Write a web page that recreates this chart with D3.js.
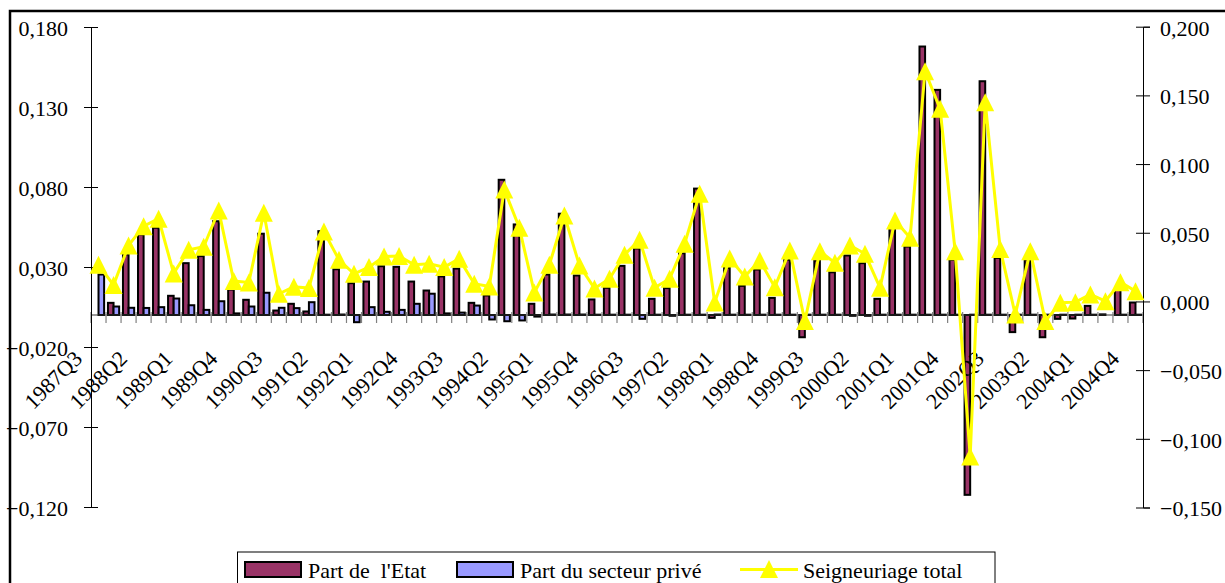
<!DOCTYPE html>
<html>
<head>
<meta charset="utf-8">
<script src="https://cdn.jsdelivr.net/npm/d3@7"></script>
<style>
  body { margin: 0; background: #fff; }
  svg { display: block; }
</style>
</head>
<body>
<div id="chart"></div>
<script>
// quarters 1987Q3 .. 2004Q4
var categories = [
  "1987Q3","1987Q4","1988Q1","1988Q2","1988Q3","1988Q4","1989Q1","1989Q2","1989Q3","1989Q4",
  "1990Q1","1990Q2","1990Q3","1990Q4","1991Q1","1991Q2","1991Q3","1991Q4","1992Q1","1992Q2",
  "1992Q3","1992Q4","1993Q1","1993Q2","1993Q3","1993Q4","1994Q1","1994Q2","1994Q3","1994Q4",
  "1995Q1","1995Q2","1995Q3","1995Q4","1996Q1","1996Q2","1996Q3","1996Q4","1997Q1","1997Q2",
  "1997Q3","1997Q4","1998Q1","1998Q2","1998Q3","1998Q4","1999Q1","1999Q2","1999Q3","1999Q4",
  "2000Q1","2000Q2","2000Q3","2000Q4","2001Q1","2001Q2","2001Q3","2001Q4","2002Q1","2002Q2",
  "2002Q3","2002Q4","2003Q1","2003Q2","2003Q3","2003Q4","2004Q1","2004Q2","2004Q3","2004Q4"
];

// Part de l'Etat (left axis)
var partEtat = [
  0.0000, 0.0076, 0.0378, 0.0503, 0.0545, 0.0120, 0.0324, 0.0368, 0.0586, 0.0159,
  0.0095, 0.0508, 0.0028, 0.0070, 0.0022, 0.0524, 0.0286, 0.0199, 0.0209, 0.0305,
  0.0301, 0.0209, 0.0153, 0.0241, 0.0290, 0.0076, 0.0122, 0.0845, 0.0566, 0.0070,
  0.0253, 0.0633, 0.0247, 0.0097, 0.0170, 0.0307, 0.0416, 0.0101, 0.0168, 0.0386,
  0.0790, -0.0018, 0.0295, 0.0182, 0.0284, 0.0107, 0.0345, -0.0139, 0.0340, 0.0267,
  0.0372, 0.0324, 0.0101, 0.0555, 0.0428, 0.1678, 0.1407, 0.0345, -0.1124, 0.1461,
  0.0357, -0.0107, 0.0345, -0.0139, -0.0024, -0.0022, 0.0057, 0.0004, 0.0159, 0.0078
];

// Part du secteur prive (left axis)
var partPrive = [
  0.0253, 0.0053, 0.0045, 0.0044, 0.0049, 0.0103, 0.0061, 0.0032, 0.0086, 0.0010,
  0.0053, 0.0139, 0.0045, 0.0043, 0.0080, 0.0002, 0.0003, -0.0045, 0.0049, 0.0020,
  0.0032, 0.0070, 0.0133, 0.0010, 0.0015, 0.0059, -0.0028, -0.0039, -0.0034, -0.0010,
  0.0003, 0.0003, 0.0003, 0.0002, 0.0002, 0.0002, -0.0024, 0.0002, -0.0005, 0.0002,
  0.0002, 0.0003, 0.0002, 0.0002, 0.0002, 0.0002, 0.0002, 0.0002, 0.0002, 0.0002,
  -0.0005, -0.0005, 0.0002, 0.0002, 0.0002, 0.0002, 0.0002, 0.0002, 0.0002, 0.0002,
  0.0002, 0.0002, 0.0002, 0.0002, 0.0002, 0.0002, 0.0002, 0.0000, 0.0002, 0.0002
];

// Seigneuriage total (right axis)
var seigneuriage = [
  0.0267, 0.0119, 0.0408, 0.0548, 0.0602, 0.0204, 0.0376, 0.0398, 0.0662, 0.0148,
  0.0138, 0.0645, 0.0056, 0.0107, 0.0097, 0.0509, 0.0303, 0.0201, 0.0250, 0.0328,
  0.0330, 0.0267, 0.0274, 0.0250, 0.0310, 0.0129, 0.0109, 0.0815, 0.0536, 0.0065,
  0.0267, 0.0626, 0.0262, 0.0095, 0.0165, 0.0340, 0.0449, 0.0100, 0.0165, 0.0420,
  0.0784, -0.0008, 0.0313, 0.0182, 0.0298, 0.0104, 0.0371, -0.0143, 0.0366, 0.0281,
  0.0408, 0.0347, 0.0100, 0.0590, 0.0464, 0.1676, 0.1402, 0.0366, -0.1128, 0.1450,
  0.0381, -0.0095, 0.0366, -0.0143, -0.0010, -0.0005, 0.0051, 0.0002, 0.0140, 0.0075
];

var leftTicks = [0.18, 0.13, 0.08, 0.03, -0.02, -0.07, -0.12];
var rightTicks = [0.2, 0.15, 0.1, 0.05, 0, -0.05, -0.1, -0.15];

var seriesNames = ["Part de  l'Etat", "Part du secteur privé", "Seigneuriage total"];
var barColors = ["#993366", "#9999FF"];
var lineColor = "#FFFF00";

var FONT = "'Liberation Serif', 'Times New Roman', Tinos, 'DejaVu Serif', serif";

var W = 1225, H = 583;
var fr = d3.formatLocale({decimal: ",", thousands: " ", grouping: [3], currency: ["", ""]});
var fmt = fr.format(".3f");

var svg = d3.select("#chart").append("svg")
    .attr("width", W)
    .attr("height", H)
    .attr("font-family", FONT);

// chart border
svg.append("rect")
    .attr("x", 10).attr("y", 11)
    .attr("width", 1220).attr("height", 600)
    .attr("fill", "#fff")
    .attr("stroke", "#000")
    .attr("stroke-width", 2.5);

var x = d3.scaleBand()
    .domain(categories)
    .range([91, 1143])
    .padding(0);

var x1 = d3.scaleBand()
    .domain([0, 1])
    .range([-5.6, 5.6]);

var yL = d3.scaleLinear().domain([-0.12, 0.18]).range([507, 27]);
var yR = d3.scaleLinear().domain([-0.15, 0.20]).range([507.5, 26.7]);

var cx = function(d) { return x(d) + x.bandwidth() / 2; };

// bars
var barData = [partEtat, partPrive];
barData.forEach(function(vals, s) {
    svg.append("g")
        .selectAll("rect")
        .data(vals)
        .enter()
        .append("rect")
        .attr("x", function(d, i) { return cx(categories[i]) + x1(s); })
        .attr("y", function(d) { return Math.min(yL(d), yL(0)); })
        .attr("width", x1.bandwidth())
        .attr("height", function(d) { return Math.abs(yL(d) - yL(0)); })
        .attr("fill", barColors[s])
        .attr("stroke", "#000")
        .attr("stroke-width", 2);
});

// category axis (zero line, boundary ticks, rotated labels)
var y0 = yL(0);
var xAxis = svg.append("g").attr("transform", "translate(0," + y0 + ")");
xAxis.append("line")
    .attr("x1", x.range()[0]).attr("x2", x.range()[1])
    .attr("stroke", "#333").attr("stroke-width", 1.2);
xAxis.selectAll(".bt")
    .data(categories.concat([null]))
    .enter()
    .append("line")
    .attr("class", "bt")
    .attr("x1", function(d) { return d === null ? x.range()[1] : x(d); })
    .attr("x2", function(d) { return d === null ? x.range()[1] : x(d); })
    .attr("y1", -3).attr("y2", 8)
    .attr("stroke", "#808080").attr("stroke-width", 1.2);

var labelCats = categories.filter(function(d, i) { return i % 3 === 0; });
xAxis.selectAll(".xl")
    .data(labelCats)
    .enter()
    .append("text")
    .attr("class", "xl")
    .attr("transform", function(d) {
        return "translate(" + (cx(d) - 15) + ",45) rotate(-45)";
    })
    .attr("text-anchor", "end")
    .attr("font-size", 22)
    .text(function(d) { return d; });

// left axis
svg.append("g")
    .attr("transform", "translate(91,0)")
    .call(d3.axisLeft(yL).tickValues(leftTicks).tickFormat(fmt).tickSize(7))
    .attr("font-family", FONT)
    .attr("font-size", 22)
    .call(function(g) {
        g.select(".domain").attr("stroke", "#000");
        g.selectAll(".tick line").attr("x1", -7).attr("x2", 7).attr("stroke", "#000");
        g.selectAll(".tick text").attr("x", -23).attr("dy", "0.38em");
    });

// right axis
svg.append("g")
    .attr("transform", "translate(1143,0)")
    .call(d3.axisRight(yR).tickValues(rightTicks).tickFormat(fmt).tickSize(7))
    .attr("font-family", FONT)
    .attr("font-size", 22)
    .call(function(g) {
        g.select(".domain").attr("stroke", "#000");
        g.selectAll(".tick line").attr("x1", -7).attr("x2", 7).attr("stroke", "#000");
        g.selectAll(".tick text").attr("x", 17).attr("dy", "0.38em");
    });

// line + triangle markers
var triangle = {
    draw: function(ctx, size) {
        var s = Math.sqrt(size);
        ctx.moveTo(0, -s / 2);
        ctx.lineTo(s / 2, s / 2);
        ctx.lineTo(-s / 2, s / 2);
        ctx.closePath();
    }
};

var line = d3.line()
    .x(function(d, i) { return cx(categories[i]); })
    .y(function(d) { return yR(d); });

svg.append("path")
    .datum(seigneuriage)
    .attr("d", line)
    .attr("fill", "none")
    .attr("stroke", lineColor)
    .attr("stroke-width", 3);

svg.append("g")
    .selectAll("path")
    .data(seigneuriage)
    .enter()
    .append("path")
    .attr("d", d3.symbol(triangle, 18 * 18))
    .attr("transform", function(d, i) {
        return "translate(" + cx(categories[i]) + "," + yR(d) + ")";
    })
    .attr("fill", lineColor);

// legend
var legend = svg.append("g").attr("font-size", 22);
legend.append("rect")
    .attr("x", 237.5).attr("y", 552)
    .attr("width", 757.5).attr("height", 50)
    .attr("fill", "#fff")
    .attr("stroke", "#000")
    .attr("stroke-width", 1);

var swX = [245, 457];
swX.forEach(function(sx, s) {
    legend.append("rect")
        .attr("x", sx).attr("y", 562)
        .attr("width", 56).attr("height", 15)
        .attr("fill", barColors[s])
        .attr("stroke", "#000")
        .attr("stroke-width", 2);
    legend.append("text")
        .attr("x", sx + 63).attr("y", 578)
        .style("white-space", "pre")
        .text(seriesNames[s]);
});

legend.append("line")
    .attr("x1", 740).attr("x2", 798)
    .attr("y1", 569.5).attr("y2", 569.5)
    .attr("stroke", lineColor).attr("stroke-width", 3);
legend.append("path")
    .attr("d", d3.symbol(triangle, 18 * 18))
    .attr("transform", "translate(769,569)")
    .attr("fill", lineColor);
legend.append("text")
    .attr("x", 803).attr("y", 578)
    .text(seriesNames[2]);
</script>
</body>
</html>
